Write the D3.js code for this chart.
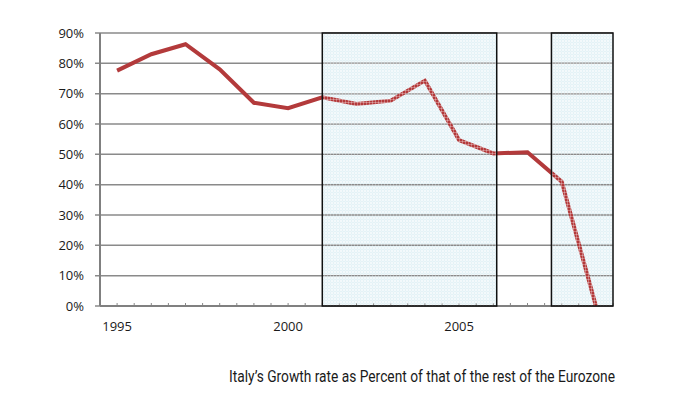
<!DOCTYPE html>
<html>
<head>
<meta charset="utf-8">
<script src="https://cdn.jsdelivr.net/npm/d3@7"></script>
<style>
  body { margin: 0; background: #fff; }
  svg { display: block; }
</style>
</head>
<body>
<div id="chart"></div>
<script>
const years = [1995, 1996, 1997, 1998, 1999, 2000, 2001, 2002, 2003, 2004, 2005, 2006, 2007, 2008, 2009]
const ratio = [77.6, 83.0, 86.3, 78.0, 67.0, 65.2, 68.8, 66.6, 67.7, 74.3, 54.7, 50.3, 50.7, 41.0, 0]
const yTicks = [0, 10, 20, 30, 40, 50, 60, 70, 80, 90]
const xLabels = [1995, 2000, 2005]
// shaded periods
const periods = [[2001, 2006.1], [2007.7, 2009.5]]
const caption = "Italy\u2019s Growth rate as Percent of that of the rest of the Eurozone"

const width = 690
const height = 399
const margin = { top: 33, left: 100, right: 77, bottom: 93 }

const svg = d3.select('#chart')
  .append('svg')
  .attr('width', width)
  .attr('height', height)

const x = d3.scaleLinear()
  .domain([1994.5, 2009.5])
  .range([margin.left, width - margin.right])

const y = d3.scaleLinear()
  .domain([0, 90])
  .range([height - margin.bottom, margin.top])

const defs = svg.append('defs')
const pat = defs.append('pattern')
  .attr('id', 'grid')
  .attr('width', 3)
  .attr('height', 3)
  .attr('patternUnits', 'userSpaceOnUse')
pat.append('rect').attr('width', 3).attr('height', 3).attr('fill', '#f3f9fb')
pat.append('path').attr('d', 'M0,0.5H3M0.5,0V3').attr('stroke', '#d8ecf2').attr('stroke-width', 1)

const pat2 = defs.append('pattern')
  .attr('id', 'over')
  .attr('width', 3)
  .attr('height', 3)
  .attr('patternUnits', 'userSpaceOnUse')
pat2.append('path').attr('d', 'M0,0.5H3M0.5,0V3').attr('stroke', '#ffffff').attr('stroke-opacity', 0.3).attr('stroke-width', 1)

// box fills
svg.append('g')
  .selectAll('rect')
  .data(periods)
  .join('rect')
  .attr('x', d => x(d[0]))
  .attr('y', y(90))
  .attr('width', d => x(d[1]) - x(d[0]))
  .attr('height', y(0) - y(90))
  .attr('fill', 'url(#grid)')

// gridlines
svg.append('g')
  .selectAll('line')
  .data(yTicks)
  .join('line')
  .attr('x1', margin.left - 5)
  .attr('x2', width - margin.right)
  .attr('y1', d => y(d))
  .attr('y2', d => y(d))
  .attr('stroke', '#8a8a8a')
  .attr('stroke-width', 1.5)

// y labels
svg.append('g')
  .selectAll('text')
  .data(yTicks)
  .join('text')
  .attr('x', 84)
  .attr('y', d => y(d))
  .attr('dy', '0.35em')
  .attr('text-anchor', 'end')
  .style('font-family', '"Open Sans", sans-serif')
  .style('font-size', '13px')
  .attr('fill', '#1a1a1a')
  .text(d => d + '%')

// x axis minor ticks (every half year)
const halfTicks = d3.range(1995, 2009.6, 0.5)
svg.append('g')
  .selectAll('line')
  .data(halfTicks)
  .join('line')
  .attr('x1', d => x(d))
  .attr('x2', d => x(d))
  .attr('y1', y(0))
  .attr('y2', y(0) - 3)
  .attr('stroke', '#888')
  .attr('stroke-width', 1)

// axis lines
svg.append('line')
  .attr('x1', margin.left).attr('x2', margin.left)
  .attr('y1', y(90)).attr('y2', y(0))
  .attr('stroke', '#808080').attr('stroke-width', 2)
svg.append('line')
  .attr('x1', margin.left).attr('x2', width - margin.right)
  .attr('y1', y(0)).attr('y2', y(0))
  .attr('stroke', '#808080').attr('stroke-width', 2)

// x labels
svg.append('g')
  .selectAll('text')
  .data(xLabels)
  .join('text')
  .attr('x', d => x(d))
  .attr('y', 331)
  .attr('text-anchor', 'middle')
  .style('font-family', '"Open Sans", sans-serif')
  .style('font-size', '13px')
  .attr('fill', '#1a1a1a')
  .text(d => d)

// the line
const line = d3.line()
  .x((d, i) => x(years[i]))
  .y(d => y(d))

svg.append('path')
  .datum(ratio)
  .attr('d', line)
  .attr('fill', 'none')
  .attr('stroke', '#b33a3b')
  .attr('stroke-width', 4)
  .attr('stroke-linejoin', 'miter')

// texture over the line inside shaded periods + borders
svg.append('g')
  .selectAll('rect')
  .data(periods)
  .join('rect')
  .attr('x', d => x(d[0]))
  .attr('y', y(90))
  .attr('width', d => x(d[1]) - x(d[0]))
  .attr('height', y(0) - y(90))
  .attr('fill', 'url(#over)')
  .attr('stroke', '#111')
  .attr('stroke-width', 1.5)

svg.append('text')
  .attr('x', 615)
  .attr('y', 382)
  .attr('text-anchor', 'end')
  .attr('textLength', 386)
  .attr('lengthAdjust', 'spacingAndGlyphs')
  .style('font-family', '"Liberation Sans Narrow", "Roboto", sans-serif')
  .style('font-size', '16px')
  .attr('fill', '#1a1a1a')
  .text(caption)
</script>
</body>
</html>
